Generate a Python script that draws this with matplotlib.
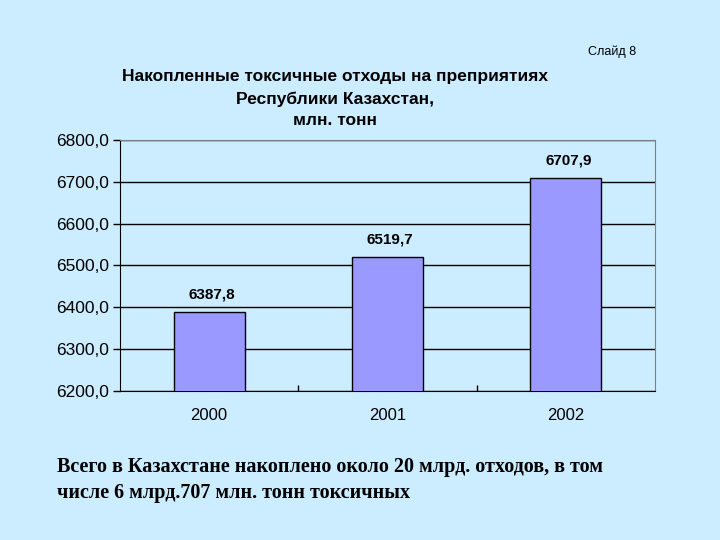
import matplotlib.pyplot as plt
from matplotlib.ticker import FixedLocator

years = ['2000', '2001', '2002']
values = [6387.8, 6519.7, 6707.9]
y_ticks = [6200, 6300, 6400, 6500, 6600, 6700, 6800]

bg = '#CCECFF'
plt.rcParams['font.family'] = ['Liberation Sans', 'DejaVu Sans']

fig = plt.figure(figsize=(7.2, 5.4), dpi=100, facecolor=bg)
ax = fig.add_axes([0.1667, 0.276, 0.743, 0.4648])
ax.set_facecolor(bg)

x = range(len(years))
bars = ax.bar(x, values, width=0.4, color='#9999FF', edgecolor='black',
              linewidth=1, zorder=3)

# value labels with comma decimal
for xi, v in zip(x, values):
    ax.annotate(f'{v:.1f}'.replace('.', ','), (xi, v), xytext=(2, 8),
                textcoords='offset points', ha='center', va='bottom',
                fontsize=11, fontweight='bold')

ax.set_xlim(-0.5, len(years) - 0.5)
ax.set_ylim(6200, 6800)
ax.set_yticks(y_ticks)
ax.set_yticklabels([f'{t:.1f}'.replace('.', ',') for t in y_ticks], fontsize=12.5)
ax.set_xticks(list(x))
ax.set_xticklabels(years, fontsize=12)
ax.tick_params(axis='x', length=0, pad=12)
ax.tick_params(axis='y', direction='out', length=5, width=1, pad=3)
ax.xaxis.set_minor_locator(FixedLocator([0.5, 1.5]))
ax.tick_params(axis='x', which='minor', direction='in', length=4, width=1)

ax.grid(axis='y', color='black', linewidth=1, zorder=1)
ax.set_axisbelow(True)
for side in ['left', 'bottom']:
    ax.spines[side].set_color('black')
for side in ['top', 'right']:
    ax.spines[side].set_color('#808080')

fig.text(0.465, 0.817, 'Накопленные токсичные отходы на преприятиях\n'
         'Республики Казахстан,\nмлн. тонн', ha='center', va='center',
         fontsize=12.5, fontweight='bold', linespacing=1.55)
fig.text(0.85, 0.904, 'Слайд 8', ha='center', va='center', fontsize=9)

fig.text(0.079, 0.112, 'Всего в Казахстане накоплено около 20 млрд. отходов, в том\n'
         'числе 6 млрд.707 млн. тонн токсичных', ha='left', va='center',
         fontsize=14.5, fontweight='bold', family='Liberation Serif',
         linespacing=1.4)

fig.savefig('out.png', dpi=100, facecolor=bg)
